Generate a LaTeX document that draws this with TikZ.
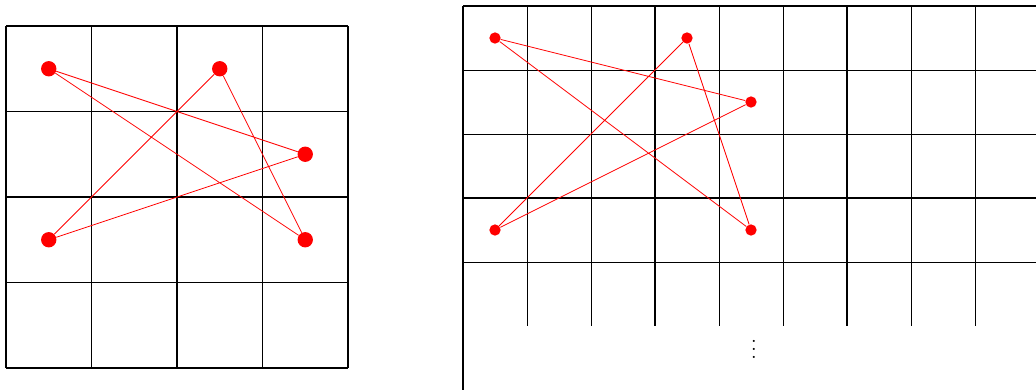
\documentclass[tikz,border=0pt]{standalone}
\usetikzlibrary{positioning}

\begin{document}
\begin{tikzpicture}[
    x=0.75pt, y=-0.75pt,
    thingrid/.style={line width=0.6pt},
    thickgrid/.style={line width=1.5pt},
    edge/.style={red, line width=0.6pt},
    bigdot/.style={circle, fill=red, inner sep=0pt, minimum size=11.5pt},
    smalldot/.style={circle, fill=red, inner sep=0pt, minimum size=8.5pt}
  ]
    \useasboundingbox (0,0) rectangle (1036,390);

    % Left grid (4x4, blocks of 2x2)
    \foreach \i in {1,3} {
      \draw[thingrid] (6+85.5*\i,26) -- (6+85.5*\i,368);
      \draw[thingrid] (6,26+85.5*\i) -- (348,26+85.5*\i);
    }
    \foreach \i in {0,2,4} {
      \draw[thickgrid] (6+85.5*\i,26) -- (6+85.5*\i,368);
      \draw[thickgrid] (6,26+85.5*\i) -- (348,26+85.5*\i);
    }

    % Right grid (blocks of 3x3, cut off)
    \foreach \i in {1,2,4,5,7,8}
      \draw[thingrid] (463+64*\i,6) -- (463+64*\i,326);
    \foreach \i in {3,6}
      \draw[thickgrid] (463+64*\i,6) -- (463+64*\i,326);
    \draw[thickgrid] (463,6) -- (463,390);
    \foreach \j in {1,2,4}
      \draw[thingrid] (463,6+64*\j) -- (1036,6+64*\j);
    \foreach \j in {0,3}
      \draw[thickgrid] (463,6+64*\j) -- (1036,6+64*\j);
    \node[scale=1.5] (more) at (754,343) {$\vdots$};

    % Left points
    \node[bigdot] (l1) at (48.75,68.75) {};
    \node[bigdot] (l2) at (219.75,68.75) {};
    \node[bigdot] (l3) at (305.25,154.25) {};
    \node[bigdot] (l4) at (48.75,239.75) {};
    \node[bigdot] (l5) at (305.25,239.75) {};

    % Right points
    \node[smalldot] (r1) at (495,38) {};
    \node[smalldot] (r2) at (687,38) {};
    \node[smalldot] (r3) at (751,102) {};
    \node[smalldot] (r4) at (495,230) {};
    \node[smalldot] (r5) at (751,230) {};

    % Star connections
    \draw[edge] (l1) -- (l3) -- (l4) -- (l2) -- (l5) -- (l1);
    \draw[edge] (r1) -- (r3) -- (r4) -- (r2) -- (r5) -- (r1);

\end{tikzpicture}
\end{document}
